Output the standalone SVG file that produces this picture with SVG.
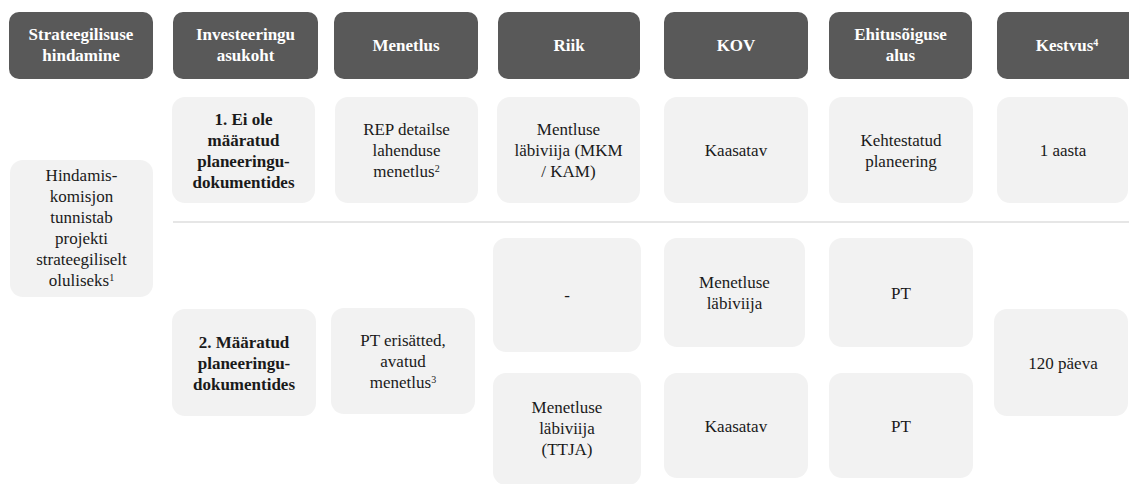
<svg xmlns="http://www.w3.org/2000/svg" width="1129" height="484" viewBox="0 0 1129 484" font-family="Liberation Serif, Times New Roman, serif">
  <style>
    .hdr { fill: #595959; }
    .box { fill: #f2f2f2; }
    text { font-size: 17px; text-anchor: middle; }
    .ht { font-weight: bold; fill: #ffffff; }
    .bt { fill: #1a1a1a; }
    .bb { font-weight: bold; fill: #1a1a1a; }
    .sup { font-size: 10px; }
    .sep { stroke: #e6e6e6; stroke-width: 2; fill: none; }
  </style>

  <g id="connectors">
    <line class="sep" x1="173" y1="222" x2="1129" y2="222"/>
  </g>

  <g id="h-strateegilisuse">
    <rect class="hdr" x="9" y="12" width="144" height="67" rx="10"/>
    <text class="ht" x="81" y="39.5">Strateegilisuse</text>
    <text class="ht" x="81" y="60.5">hindamine</text>
  </g>
  <g id="h-investeeringu">
    <rect class="hdr" x="173" y="12" width="145" height="67" rx="10"/>
    <text class="ht" x="245.5" y="39.5">Investeeringu</text>
    <text class="ht" x="245.5" y="60.5">asukoht</text>
  </g>
  <g id="h-menetlus">
    <rect class="hdr" x="334" y="12" width="144" height="67" rx="10"/>
    <text class="ht" x="406" y="50.5">Menetlus</text>
  </g>
  <g id="h-riik">
    <rect class="hdr" x="498" y="12" width="142" height="67" rx="10"/>
    <text class="ht" x="569" y="50.5">Riik</text>
  </g>
  <g id="h-kov">
    <rect class="hdr" x="664" y="12" width="144" height="67" rx="10"/>
    <text class="ht" x="736" y="50.5">KOV</text>
  </g>
  <g id="h-ehitus">
    <rect class="hdr" x="829" y="12" width="143" height="67" rx="10"/>
    <text class="ht" x="900.5" y="39.5">Ehitusõiguse</text>
    <text class="ht" x="900.5" y="60.5">alus</text>
  </g>
  <g id="h-kestvus">
    <rect class="hdr" x="997" y="12" width="144" height="67" rx="10"/>
    <text class="ht" x="1067" y="50.5">Kestvus<tspan class="sup" baseline-shift="super">4</tspan></text>
  </g>

  <g id="n-hindamis">
    <rect class="box" x="10" y="160" width="143" height="137" rx="13"/>
    <text class="bt" x="81.5" y="181">Hindamis-</text>
    <text class="bt" x="81.5" y="202">komisjon</text>
    <text class="bt" x="81.5" y="223">tunnistab</text>
    <text class="bt" x="81.5" y="244">projekti</text>
    <text class="bt" x="81.5" y="265">strateegiliselt</text>
    <text class="bt" x="81.5" y="286">oluliseks<tspan class="sup" baseline-shift="super">1</tspan></text>
  </g>

  <g id="n-ei-ole">
    <rect class="box" x="172" y="97" width="143" height="106" rx="13"/>
    <text class="bb" x="243.5" y="124.5">1. Ei ole</text>
    <text class="bb" x="243.5" y="145.5">määratud</text>
    <text class="bb" x="243.5" y="166.5">planeeringu-</text>
    <text class="bb" x="243.5" y="187.5">dokumentides</text>
  </g>
  <g id="n-rep">
    <rect class="box" x="335" y="97" width="143" height="106" rx="13"/>
    <text class="bt" x="406.5" y="135">REP detailse</text>
    <text class="bt" x="406.5" y="156">lahenduse</text>
    <text class="bt" x="406.5" y="177">menetlus<tspan class="sup" baseline-shift="super">2</tspan></text>
  </g>
  <g id="n-mentluse">
    <rect class="box" x="497" y="97" width="143" height="106" rx="13"/>
    <text class="bt" x="568.5" y="135">Mentluse</text>
    <text class="bt" x="568.5" y="156">läbiviija (MKM</text>
    <text class="bt" x="568.5" y="177">/ KAM)</text>
  </g>
  <g id="n-kaasatav-1">
    <rect class="box" x="664" y="97" width="144" height="106" rx="13"/>
    <text class="bt" x="736" y="156">Kaasatav</text>
  </g>
  <g id="n-kehtestatud">
    <rect class="box" x="829" y="97" width="144" height="106" rx="13"/>
    <text class="bt" x="901" y="145.5">Kehtestatud</text>
    <text class="bt" x="901" y="166.5">planeering</text>
  </g>
  <g id="n-1-aasta">
    <rect class="box" x="997" y="97" width="131" height="106" rx="13"/>
    <text class="bt" x="1063" y="156">1 aasta</text>
  </g>

  <g id="n-maaratud">
    <rect class="box" x="172" y="309" width="144" height="107" rx="13"/>
    <text class="bb" x="244" y="347.5">2. Määratud</text>
    <text class="bb" x="244" y="368.5">planeeringu-</text>
    <text class="bb" x="244" y="389.5">dokumentides</text>
  </g>
  <g id="n-pt-erisatted">
    <rect class="box" x="331" y="308" width="144" height="106" rx="13"/>
    <text class="bt" x="403" y="346">PT erisätted,</text>
    <text class="bt" x="403" y="367">avatud</text>
    <text class="bt" x="403" y="388">menetlus<tspan class="sup" baseline-shift="super">3</tspan></text>
  </g>
  <g id="n-dash">
    <rect class="box" x="493" y="238" width="148" height="114" rx="13"/>
    <text class="bt" x="567" y="301">-</text>
  </g>
  <g id="n-menetluse-labiviija">
    <rect class="box" x="664" y="238" width="141" height="109" rx="13"/>
    <text class="bt" x="734.5" y="288">Menetluse</text>
    <text class="bt" x="734.5" y="309">läbiviija</text>
  </g>
  <g id="n-pt-1">
    <rect class="box" x="829" y="238" width="144" height="109" rx="13"/>
    <text class="bt" x="901" y="298.5">PT</text>
  </g>
  <g id="n-ttja">
    <rect class="box" x="493" y="373" width="148" height="112" rx="13"/>
    <text class="bt" x="567" y="413">Menetluse</text>
    <text class="bt" x="567" y="434">läbiviija</text>
    <text class="bt" x="567" y="455">(TTJA)</text>
  </g>
  <g id="n-kaasatav-2">
    <rect class="box" x="664" y="373" width="144" height="105" rx="13"/>
    <text class="bt" x="736" y="431.5">Kaasatav</text>
  </g>
  <g id="n-pt-2">
    <rect class="box" x="829" y="373" width="144" height="105" rx="13"/>
    <text class="bt" x="901" y="431.5">PT</text>
  </g>
  <g id="n-120">
    <rect class="box" x="994" y="309" width="134" height="107" rx="13"/>
    <text class="bt" x="1063" y="368.5">120 päeva</text>
  </g>
</svg>
